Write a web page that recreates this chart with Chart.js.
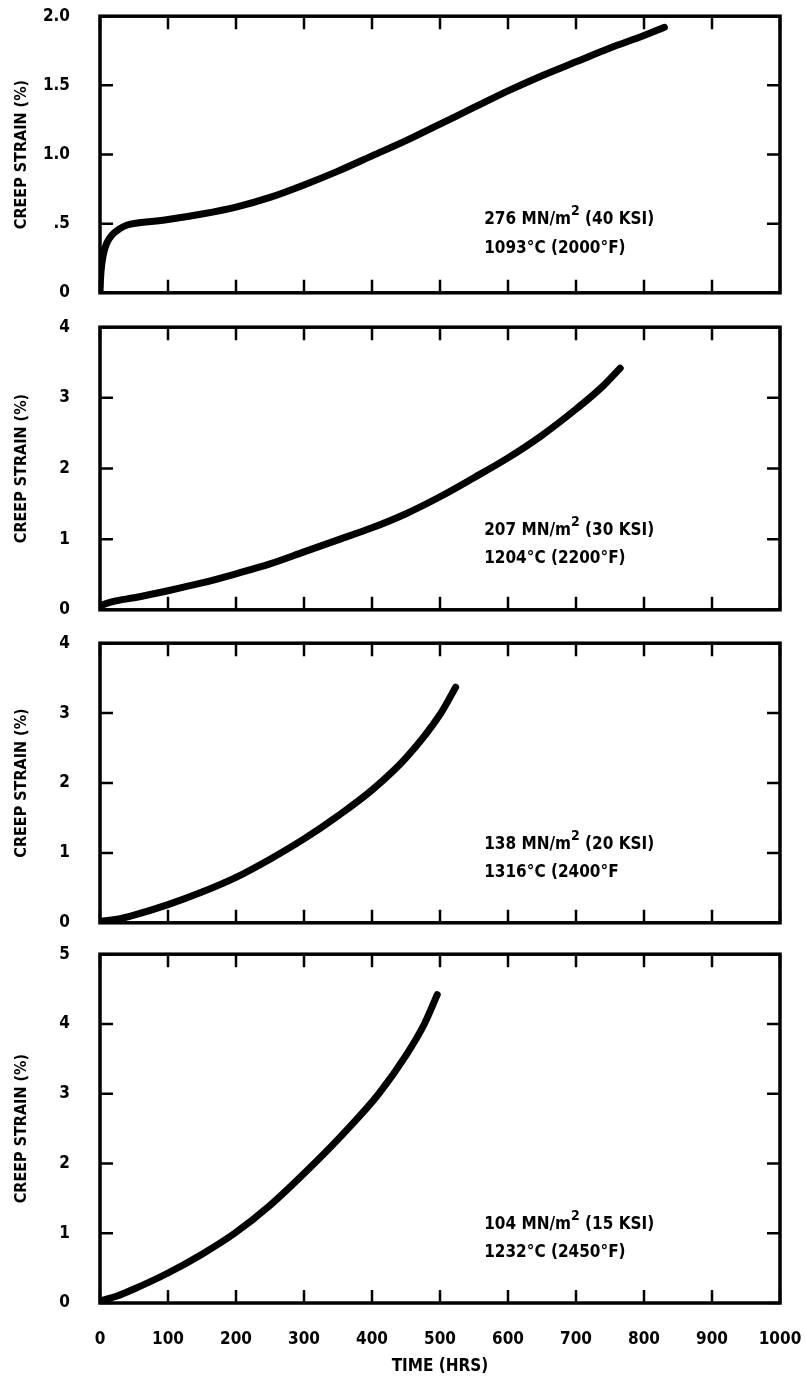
<!DOCTYPE html>
<html>
<head>
<meta charset="utf-8">
<script src="https://cdn.jsdelivr.net/npm/chart.js@4.4.0/dist/chart.umd.min.js"></script>
<style>
  body { margin: 0; background: #fff; overflow: hidden; }
  #wrap { position: relative; width: 805px; height: 1384px; background: #fff; }
  #wrap canvas { position: absolute; left: 0; }
</style>
</head>
<body>
<div id="wrap">
  <canvas id="c1"></canvas>
  <canvas id="c2"></canvas>
  <canvas id="c3"></canvas>
  <canvas id="c4"></canvas>
</div>
<script>
// 时间轴刻度
const timeTicks = [0, 100, 200, 300, 400, 500, 600, 700, 800, 900, 1000];
const timeTickLabels = ['0', '100', '200', '300', '400', '500', '600', '700', '800', '900', '1000'];

// 第一张图 276 MN/m2, 1093C
const strainTicks1 = [0, 0.5, 1, 1.5, 2];
const strainTickLabels1 = ['0', '.5', '1.0', '1.5', '2.0'];
const time1 = [0, 1, 3, 6, 10, 18, 28, 40, 55, 75, 100, 150, 200, 250, 300, 350, 400, 450, 500, 550, 600, 650, 700, 750, 800, 830];
const strain1 = [0, 0.12, 0.22, 0.3, 0.36, 0.42, 0.46, 0.49, 0.505, 0.515, 0.53, 0.57, 0.62, 0.69, 0.78, 0.88, 0.99, 1.1, 1.22, 1.34, 1.46, 1.57, 1.67, 1.77, 1.86, 1.92];
const note1 = [[['276 MN/m', false], ['2', true], [' (40 KSI)', false]], [['1093°C (2000°F)', false]]];

// 第二张图 207 MN/m2, 1204C
const strainTicks2 = [0, 1, 2, 3, 4];
const strainTickLabels2 = ['0', '1', '2', '3', '4'];
const time2 = [0, 20, 50, 100, 150, 200, 250, 300, 350, 400, 450, 500, 550, 600, 650, 700, 740, 765];
const strain2 = [0.06, 0.12, 0.17, 0.27, 0.38, 0.51, 0.65, 0.82, 0.99, 1.16, 1.36, 1.6, 1.87, 2.15, 2.47, 2.84, 3.17, 3.42];
const note2 = [[['207 MN/m', false], ['2', true], [' (30 KSI)', false]], [['1204°C (2200°F)', false]]];

// 第三张图 138 MN/m2, 1316C
const strainTicks3 = [0, 1, 2, 3, 4];
const strainTickLabels3 = ['0', '1', '2', '3', '4'];
const time3 = [0, 25, 50, 100, 150, 200, 250, 300, 350, 400, 450, 500, 523];
const strain3 = [0.02, 0.05, 0.11, 0.26, 0.44, 0.65, 0.91, 1.2, 1.53, 1.9, 2.36, 2.98, 3.37];
const note3 = [[['138 MN/m', false], ['2', true], [' (20 KSI)', false]], [['1316°C (2400°F', false]]];

// 第四张图 104 MN/m2, 1232C
const strainTicks4 = [0, 1, 2, 3, 4, 5];
const strainTickLabels4 = ['0', '1', '2', '3', '4', '5'];
const time4 = [0, 25, 50, 100, 150, 198, 250, 315, 360, 410, 450, 477, 496];
const strain4 = [0.03, 0.1, 0.2, 0.43, 0.7, 1.0, 1.4, 2.0, 2.45, 3.0, 3.55, 4.0, 4.42];
const note4 = [[['104 MN/m', false], ['2', true], [' (15 KSI)', false]], [['1232°C (2450°F)', false]]];

const FONT = '"DejaVu Sans Condensed", "Liberation Sans Narrow", "DejaVu Sans", sans-serif';
const PAGE_H = 1384;

// 边框和向内刻度
const framePlugin = {
  id: 'frame',
  afterDatasetsDraw(chart) {
    const { ctx, chartArea: a, scales: { x, y } } = chart;
    const len = 13;
    ctx.save();
    ctx.strokeStyle = '#000';
    ctx.lineWidth = 2.5;
    ctx.beginPath();
    timeTicks.forEach(v => {
      const px = x.getPixelForValue(v);
      ctx.moveTo(px, a.bottom); ctx.lineTo(px, a.bottom - len);
      ctx.moveTo(px, a.top); ctx.lineTo(px, a.top + len);
    });
    y.ticks.forEach(t => {
      const py = y.getPixelForValue(t.value);
      ctx.moveTo(a.left, py); ctx.lineTo(a.left + len, py);
      ctx.moveTo(a.right, py); ctx.lineTo(a.right - len, py);
    });
    ctx.stroke();
    ctx.lineWidth = 3.5;
    ctx.strokeRect(a.left, a.top, a.right - a.left, a.bottom - a.top);
    ctx.restore();
  }
};

// 图内说明文字
const notesPlugin = {
  id: 'notes',
  afterDraw(chart, args, opts) {
    const { ctx, scales: { x, y } } = chart;
    ctx.save();
    ctx.fillStyle = '#000';
    ctx.textBaseline = 'alphabetic';
    opts.lines.forEach((parts, i) => {
      let px = x.getPixelForValue(opts.x);
      const py = y.getPixelForValue(opts.y[i]);
      parts.forEach(([text, sup]) => {
        ctx.font = (sup ? 'bold 14px ' : 'bold 17px ') + FONT;
        ctx.fillText(text, px, sup ? py - 9 : py);
        px += ctx.measureText(text).width;
      });
    });
    ctx.restore();
  }
};

function makeConfig(p, padTop, padBottom) {
  const tickFont = { family: FONT, size: 17, weight: 'bold' };
  return {
    type: 'line',
    data: {
      datasets: [{
        data: p.time.map((t, i) => ({ x: t, y: p.strain[i] })),
        borderColor: '#000',
        borderWidth: 7,
        borderCapStyle: 'round',
        pointRadius: 0,
        cubicInterpolationMode: 'monotone',
        fill: false
      }]
    },
    options: {
      responsive: false,
      maintainAspectRatio: false,
      animation: false,
      devicePixelRatio: 1,
      layout: { padding: { top: padTop, right: 25, bottom: padBottom, left: 0 } },
      plugins: {
        legend: { display: false },
        tooltip: { enabled: false },
        notes: { x: 565, y: p.noteY, lines: p.note }
      },
      scales: {
        x: {
          type: 'linear',
          min: 0,
          max: 1000,
          display: !!p.last,
          grid: { display: false },
          border: { display: false },
          afterBuildTicks: s => { s.ticks = timeTicks.map(v => ({ value: v })); },
          ticks: {
            callback: v => timeTickLabels[timeTicks.indexOf(v)],
            font: tickFont,
            color: '#000',
            padding: 18,
            maxRotation: 0,
            autoSkip: false
          },
          title: { display: true, text: 'TIME (HRS)', font: tickFont, color: '#000', padding: { top: 4, bottom: 7 } },
          afterFit: s => {
            s.paddingLeft = 0;
            s.paddingRight = 0;
            if (p.last) s.height = PAGE_H - p.bottom;
          }
        },
        y: {
          type: 'linear',
          min: 0,
          max: p.ticks[p.ticks.length - 1],
          grid: { display: false },
          border: { display: false },
          afterBuildTicks: s => { s.ticks = p.ticks.map(v => ({ value: v })); },
          ticks: {
            callback: v => p.labels[p.ticks.indexOf(v)],
            font: tickFont,
            color: '#000',
            padding: 22
          },
          title: {
            display: true,
            text: 'CREEP STRAIN (%)',
            font: { family: FONT, size: 16, weight: 'bold' },
            color: '#000',
            padding: { top: 12, bottom: 0 }
          },
          afterFit: s => { s.width = 100; }
        }
      }
    },
    plugins: [framePlugin, notesPlugin]
  };
}

// 按量得的绘图区偏移放置画布，使各图绘图区对齐
function drawPanel(p) {
  const canvas = document.getElementById(p.id);
  const padTop = 14;
  const padBottom = p.last ? 0 : 12;
  const place = (offTop, offBottom) => {
    const h = Math.round(offTop + (p.bottom - p.top) + offBottom);
    canvas.width = 805;
    canvas.height = h;
    canvas.style.top = Math.round(p.top - offTop) + 'px';
    canvas.style.width = '805px';
    canvas.style.height = h + 'px';
    return h;
  };
  let h = place(padTop, p.last ? PAGE_H - p.bottom : padBottom);
  let chart = new Chart(canvas, makeConfig(p, padTop, padBottom));
  const offTop = chart.chartArea.top;
  const offBottom = h - chart.chartArea.bottom;
  chart.destroy();
  place(offTop, offBottom);
  new Chart(canvas, makeConfig(p, padTop, padBottom));
}

drawPanel({ id: 'c1', top: 16, bottom: 293, time: time1, strain: strain1, ticks: strainTicks1, labels: strainTickLabels1, note: note1, noteY: [0.5, 0.29] });
drawPanel({ id: 'c2', top: 327, bottom: 610, time: time2, strain: strain2, ticks: strainTicks2, labels: strainTickLabels2, note: note2, noteY: [1.06, 0.66] });
drawPanel({ id: 'c3', top: 643, bottom: 923, time: time3, strain: strain3, ticks: strainTicks3, labels: strainTickLabels3, note: note3, noteY: [1.06, 0.66] });
drawPanel({ id: 'c4', top: 954, bottom: 1303, time: time4, strain: strain4, ticks: strainTicks4, labels: strainTickLabels4, note: note4, noteY: [1.06, 0.66], last: true });
</script>
</body>
</html>
